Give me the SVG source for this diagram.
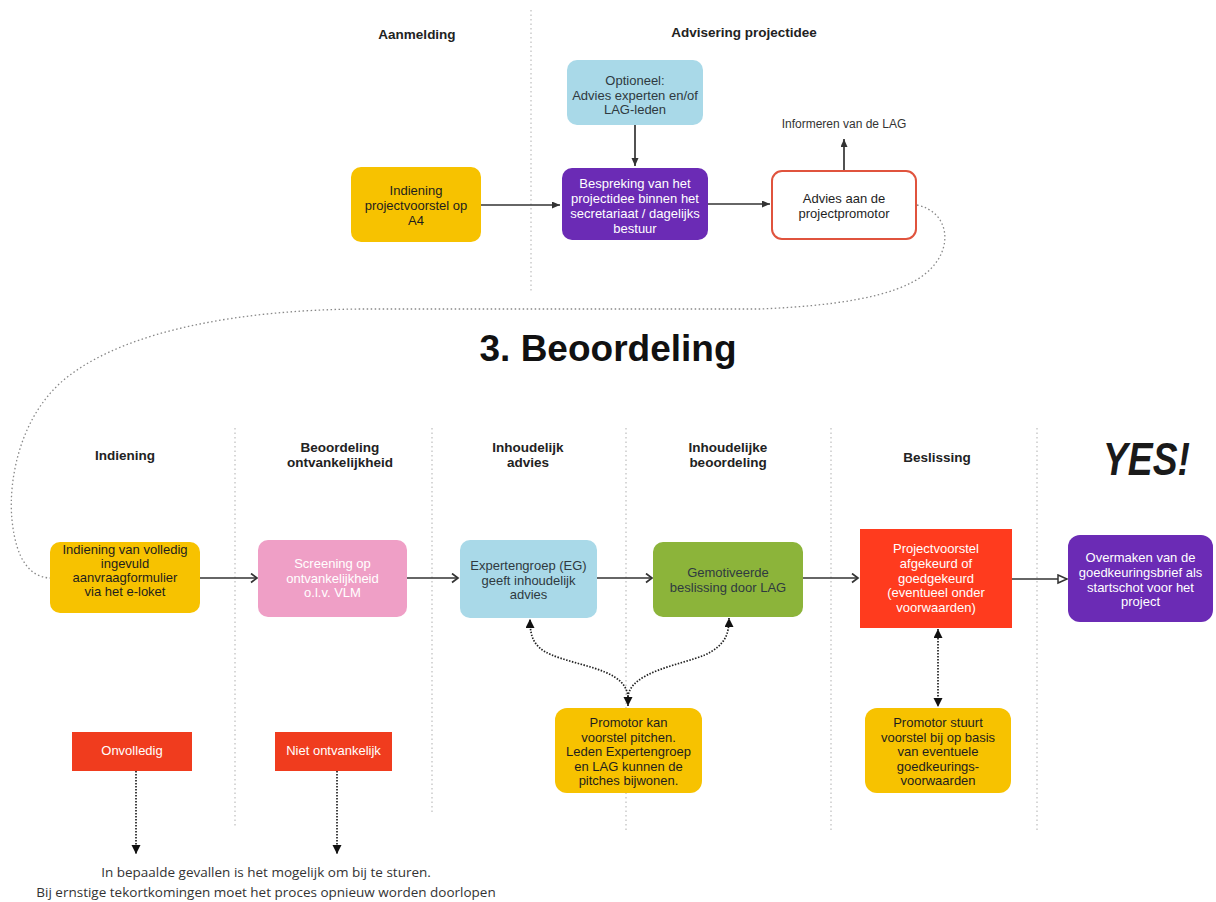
<svg xmlns="http://www.w3.org/2000/svg" width="1216" height="902" viewBox="0 0 1216 902">
<style>
.hdr{font-family:"Liberation Sans",Arial,sans-serif;font-weight:bold;font-size:13.5px;fill:#222;text-anchor:middle}
.bt{font-family:"Liberation Sans",Arial,sans-serif;font-size:13px;text-anchor:middle}
.dk{fill:#1e1e1e}
.wh{fill:#ffffff}
.gr{fill:#2f3a40}
.div{stroke:#bdbdbd;stroke-width:1.2;stroke-dasharray:1.5 3;fill:none}
.conn{stroke:#333;stroke-width:1.7;fill:none}
.dot{stroke:#222;stroke-width:1.7;fill:none;stroke-dasharray:1.5 1.5}
.loop{stroke:#888;stroke-width:1.3;fill:none;stroke-dasharray:1.5 2.5}
</style>
<defs>
<marker id="tri" markerUnits="userSpaceOnUse" markerWidth="10" markerHeight="8" refX="8" refY="3.5" orient="auto"><path d="M0,0 L8,3.5 L0,7 z" fill="#333"/></marker>
<marker id="chev" markerUnits="userSpaceOnUse" markerWidth="10" markerHeight="12" refX="7" refY="5" orient="auto"><path d="M1,0.5 L7,5 L1,9.5" fill="none" stroke="#333" stroke-width="1.7"/></marker>
<marker id="hollow" markerUnits="userSpaceOnUse" markerWidth="12" markerHeight="12" refX="10" refY="5" orient="auto"><path d="M1,1 L10,5 L1,9 z" fill="#fff" stroke="#333" stroke-width="1.5"/></marker>
<marker id="dtri" markerUnits="userSpaceOnUse" markerWidth="10" markerHeight="12" refX="9" refY="4.5" orient="auto-start-reverse"><path d="M0,0 L9,4.5 L0,9 z" fill="#111"/></marker>
</defs>

<g id="dividers">
<line class="div" x1="531" y1="10" x2="531" y2="292"/>
<line class="div" x1="235" y1="428" x2="235" y2="828"/>
<line class="div" x1="432" y1="428" x2="432" y2="815"/>
<line class="div" x1="626" y1="428" x2="626" y2="830"/>
<line class="div" x1="831" y1="428" x2="831" y2="830"/>
<line class="div" x1="1037" y1="428" x2="1037" y2="830"/>
</g>

<g id="headers">
<text class="hdr" x="417" y="39">Aanmelding</text>
<text class="hdr" x="744" y="37">Advisering projectidee</text>
<text class="hdr" x="125" y="460">Indiening</text>
<text class="hdr" x="340" y="452">Beoordeling<tspan x="340" dy="15">ontvankelijkheid</tspan></text>
<text class="hdr" x="528" y="452">Inhoudelijk<tspan x="528" dy="15">advies</tspan></text>
<text class="hdr" x="728" y="452">Inhoudelijke<tspan x="728" dy="15">beoordeling</tspan></text>
<text class="hdr" x="937" y="462">Beslissing</text>
<text x="608" y="361" font-family="Liberation Sans, Arial, sans-serif" font-weight="bold" font-size="37" fill="#111" text-anchor="middle">3. Beoordeling</text>
<text x="1103" y="475" font-family="Liberation Sans, Arial, sans-serif" font-weight="bold" font-style="italic" font-size="47" fill="#1a1a1a" textLength="87" lengthAdjust="spacingAndGlyphs">YES!</text>
<text x="844" y="128" font-family="Liberation Sans, Arial, sans-serif" font-size="12" fill="#333" text-anchor="middle">Informeren van de LAG</text>
<text font-family="Open Sans, Liberation Sans, sans-serif" font-size="13.5" fill="#333" text-anchor="middle"><tspan x="266" y="877">In bepaalde gevallen is het mogelijk om bij te sturen.</tspan><tspan x="266" y="897">Bij ernstige tekortkomingen moet het proces opnieuw worden doorlopen</tspan></text>
</g>

<g id="connectors">
<line class="conn" x1="635" y1="125" x2="635" y2="166" marker-end="url(#tri)"/>
<line class="conn" x1="481" y1="205" x2="560" y2="205" marker-end="url(#tri)"/>
<line class="conn" x1="708" y1="204" x2="770" y2="204" marker-end="url(#tri)"/>
<line class="conn" x1="844" y1="170" x2="844" y2="139" marker-end="url(#tri)"/>
<path class="loop" d="M917 205 C950 212 955 250 925 274 C895 298 830 306 760 309 L360 309 C240 310 130 330 70 375 C20 412 8 480 12 520 C16 560 30 577 50 578"/>
<line class="conn" x1="200" y1="578" x2="257" y2="578" marker-end="url(#chev)"/>
<line class="conn" x1="407" y1="578" x2="458" y2="578" marker-end="url(#chev)"/>
<line class="conn" x1="597" y1="578" x2="652" y2="578" marker-end="url(#chev)"/>
<line class="conn" x1="803" y1="578" x2="858" y2="578" marker-end="url(#chev)"/>
<line class="conn" x1="1012" y1="579" x2="1067" y2="579" marker-end="url(#hollow)"/>
<path class="dot" d="M628 706 L628 697 C626 672 590 668 560 658 C535 650 530 640 530 619" marker-start="url(#dtri)" marker-end="url(#dtri)"/>
<path class="dot" d="M628 697 C630 672 680 665 705 655 C725 645 729 635 729 618" marker-end="url(#dtri)"/>
<line class="dot" x1="938" y1="629" x2="938" y2="707" marker-start="url(#dtri)" marker-end="url(#dtri)"/>
<line class="dot" x1="136" y1="771" x2="136" y2="854" marker-end="url(#dtri)"/>
<line class="dot" x1="337" y1="771" x2="337" y2="854" marker-end="url(#dtri)"/>
</g>

<g id="n-optioneel">
<rect x="567" y="60" width="136" height="65" rx="10" fill="#a9d9e8"/>
<text class="bt gr" x="635" y="85">Optioneel:<tspan x="635" dy="14.5">Advies experten en/of</tspan><tspan x="635" dy="14.5">LAG-leden</tspan></text>
</g>
<g id="n-indiening-a4">
<rect x="351" y="167" width="130" height="75" rx="10" fill="#f7c200"/>
<text class="bt dk" x="416" y="195">Indiening<tspan x="416" dy="15">projectvoorstel op</tspan><tspan x="416" dy="15">A4</tspan></text>
</g>
<g id="n-bespreking">
<rect x="562" y="168" width="146" height="72" rx="10" fill="#6b2bb5"/>
<text class="bt wh" x="635" y="188">Bespreking van het<tspan x="635" dy="15">projectidee binnen het</tspan><tspan x="635" dy="15">secretariaat / dagelijks</tspan><tspan x="635" dy="15">bestuur</tspan></text>
</g>
<g id="n-advies">
<rect x="772" y="171" width="144" height="68" rx="10" fill="#fff" stroke="#e0533d" stroke-width="2"/>
<text class="bt dk" x="844" y="203">Advies aan de<tspan x="844" dy="15">projectpromotor</tspan></text>
</g>

<g id="n-indiening">
<rect x="50" y="542" width="150" height="71" rx="10" fill="#f7c200"/>
<text class="bt dk" x="125" y="554" font-size="13.5">Indiening van volledig<tspan x="125" dy="14">ingevuld</tspan><tspan x="125" dy="14">aanvraagformulier</tspan><tspan x="125" dy="14">via het e-loket</tspan></text>
</g>
<g id="n-screening">
<rect x="258" y="540" width="149" height="77" rx="10" fill="#ef9fc6"/>
<text class="bt wh" x="332.5" y="568">Screening op<tspan x="332.5" dy="14.5">ontvankelijkheid</tspan><tspan x="332.5" dy="14.5">o.l.v. VLM</tspan></text>
</g>
<g id="n-expertengroep">
<rect x="460" y="540" width="137" height="78" rx="10" fill="#a9d9e8"/>
<text class="bt gr" x="528.5" y="570">Expertengroep (EG)<tspan x="528.5" dy="14.5">geeft inhoudelijk</tspan><tspan x="528.5" dy="14.5">advies</tspan></text>
</g>
<g id="n-gemotiveerde">
<rect x="653" y="542" width="150" height="75" rx="10" fill="#8cb43a"/>
<text class="bt gr" x="728" y="577">Gemotiveerde<tspan x="728" dy="15">beslissing door LAG</tspan></text>
</g>
<g id="n-projectvoorstel">
<rect x="860" y="529" width="152" height="99" fill="#ff3b1e"/>
<text class="bt wh" x="936" y="553">Projectvoorstel<tspan x="936" dy="14.8">afgekeurd of</tspan><tspan x="936" dy="14.8">goedgekeurd</tspan><tspan x="936" dy="14.8">(eventueel onder</tspan><tspan x="936" dy="14.8">voorwaarden)</tspan></text>
</g>
<g id="n-overmaken">
<rect x="1068" y="535" width="145" height="87" rx="12" fill="#6b2bb5"/>
<text class="bt wh" x="1140.5" y="562">Overmaken van de<tspan x="1140.5" dy="14.8">goedkeuringsbrief als</tspan><tspan x="1140.5" dy="14.8">startschot voor het</tspan><tspan x="1140.5" dy="14.8">project</tspan></text>
</g>
<g id="n-promotor-pitch">
<rect x="555" y="708" width="147" height="85" rx="12" fill="#f7c200"/>
<text class="bt dk" x="628.5" y="727">Promotor kan<tspan x="628.5" dy="14.5">voorstel pitchen.</tspan><tspan x="628.5" dy="14.5">Leden Expertengroep</tspan><tspan x="628.5" dy="14.5">en LAG kunnen de</tspan><tspan x="628.5" dy="14.5">pitches bijwonen.</tspan></text>
</g>
<g id="n-promotor-stuurt">
<rect x="865" y="708" width="146" height="85" rx="12" fill="#f7c200"/>
<text class="bt dk" x="938" y="727">Promotor stuurt<tspan x="938" dy="14.5">voorstel bij op basis</tspan><tspan x="938" dy="14.5">van eventuele</tspan><tspan x="938" dy="14.5">goedkeurings-</tspan><tspan x="938" dy="14.5">voorwaarden</tspan></text>
</g>
<g id="n-onvolledig">
<rect x="72" y="732" width="120" height="39" fill="#f03c1e"/>
<text class="bt wh" x="132" y="755">Onvolledig</text>
</g>
<g id="n-niet-ontvankelijk">
<rect x="275" y="732" width="117" height="39" fill="#f03c1e"/>
<text class="bt wh" x="333.5" y="755">Niet ontvankelijk</text>
</g>
</svg>
